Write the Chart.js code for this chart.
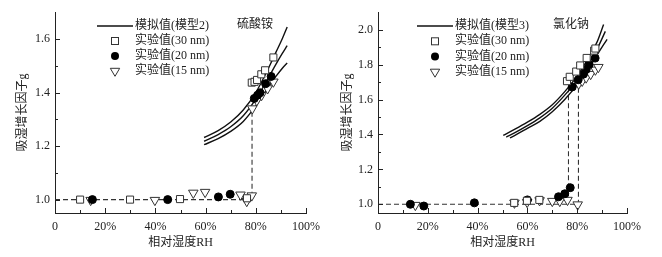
<!DOCTYPE html>
<html>
<head>
<meta charset="utf-8">
<script src="https://cdn.jsdelivr.net/npm/chart.js@4.4.1/dist/chart.umd.min.js"></script>
<style>
  html, body { margin: 0; padding: 0; background: #ffffff; }
  .panel { position: absolute; top: 0; width: 331px; height: 257px; }
</style>
</head>
<body>
<div class="panel" style="left:0"><canvas id="chart_as" width="331" height="257"></canvas></div>
<div class="panel" style="left:331px"><canvas id="chart_na" width="331" height="257"></canvas></div>
<script>
// ---- data ----
// x: relative humidity (%), y: growth factor g

// 硫酸铵 (left panel)
const as_curve_rh = [59.4, 65, 70, 75, 80, 85, 88, 90.5, 92.5];
const as_curve_top = [1.232, 1.258, 1.29, 1.335, 1.40, 1.49, 1.55, 1.60, 1.645];
const as_curve_mid = [1.218, 1.243, 1.272, 1.313, 1.375, 1.455, 1.505, 1.545, 1.575];
const as_curve_bot = [1.205, 1.228, 1.255, 1.292, 1.35, 1.42, 1.46, 1.49, 1.51];

const as_rh_30 = [10, 29.9, 49.8, 76.5, 78.4, 79.5, 80.5, 82.2, 83.7, 87.0];
const as_g_30 = [1.0, 1.0, 1.002, 1.005, 1.437, 1.44, 1.447, 1.468, 1.483, 1.531];
const as_rh_20 = [14.9, 44.9, 65.1, 69.8, 79.4, 80.7, 81.7, 83.9, 86.1];
const as_g_20 = [1.0, 1.0, 1.01, 1.02, 1.378, 1.39, 1.399, 1.433, 1.46];
const as_rh_15 = [14.2, 39.8, 55.1, 59.8, 73.9, 76.4, 78.4, 78.6, 80.4, 82.3, 84.7, 87.0];
const as_g_15 = [0.998, 0.998, 1.025, 1.028, 1.018, 0.994, 1.015, 1.34, 1.37, 1.39, 1.415, 1.44];

const as_dash_rh = [0, 78.5, 78.5];
const as_dash_g = [1.0, 1.0, 1.34];

const as_y_ticks = [1.0, 1.2, 1.4, 1.6];

// 氯化钠 (right panel)
const na_top_rh = [50.3, 55, 60, 65, 70, 75, 80, 85, 88, 90.6];
const na_top_g = [1.395, 1.43, 1.47, 1.515, 1.57, 1.645, 1.735, 1.85, 1.93, 2.03];
const na_mid_rh = [51.5, 55, 60, 65, 70, 75, 80, 85, 88, 91.3];
const na_mid_g = [1.385, 1.41, 1.45, 1.495, 1.55, 1.625, 1.71, 1.815, 1.89, 1.99];
const na_bot_rh = [53, 55, 60, 65, 70, 75, 80, 85, 88, 92];
const na_bot_g = [1.38, 1.395, 1.435, 1.475, 1.53, 1.60, 1.685, 1.785, 1.855, 1.945];

const na_rh_30 = [54.7, 59.8, 64.8, 75.9, 77.0, 79.6, 81.2, 83.8, 86.8, 87.3];
const na_g_30 = [1.008, 1.02, 1.025, 1.705, 1.73, 1.76, 1.795, 1.838, 1.88, 1.892];
const na_rh_20 = [13.0, 18.4, 38.7, 60.0, 72.5, 75.0, 77.2, 78.0, 80.4, 82.5, 83.6, 84.8, 87.2];
const na_g_20 = [1.0, 0.99, 1.008, 1.025, 1.043, 1.06, 1.095, 1.672, 1.713, 1.745, 1.772, 1.80, 1.837];
const na_rh_15 = [15.0, 54.8, 59.9, 64.9, 70.0, 73.0, 76.1, 80.2, 80.6, 82.0, 83.6, 85.4, 87.3, 88.5];
const na_g_15 = [0.995, 1.008, 1.012, 1.022, 1.018, 1.018, 1.024, 0.998, 1.69, 1.706, 1.725, 1.745, 1.77, 1.785];

const na_dash_rh = [0, 80.5, 80.5];
const na_dash_g = [1.0, 1.0, 1.68];
const na_dash2_rh = [76.5, 76.5];
const na_dash2_g = [1.0, 1.66];

const na_y_ticks = [1.0, 1.2, 1.4, 1.6, 1.8, 2.0];

const x_ticks = [0, 20, 40, 60, 80, 100];

const serif = "'Liberation Serif', 'Noto Sans CJK SC', serif";
const ink = "#222222";

function pts(xs, ys) {
  return xs.map((v, i) => ({ x: v, y: ys[i] }));
}

function curve(xs, ys) {
  return {
    type: "line", data: pts(xs, ys), borderColor: "#111", borderWidth: 1.4,
    pointRadius: 0, tension: 0.4, cubicInterpolationMode: "monotone", order: 2
  };
}

function dashed(xs, ys) {
  return {
    type: "line", data: pts(xs, ys), borderColor: "#333", borderWidth: 1.1,
    borderDash: [5, 3], pointRadius: 0, tension: 0, order: 3
  };
}

function marks(xs, ys, style) {
  const base = { type: "scatter", data: pts(xs, ys), borderColor: "#333", borderWidth: 1, order: 0 };
  if (style === "rect") return { ...base, pointStyle: "rect", pointRadius: 5, backgroundColor: "#fff" };
  if (style === "circle") return { ...base, pointStyle: "circle", pointRadius: 4, backgroundColor: "#000", borderColor: "#000" };
  return { ...base, pointStyle: "triangle", rotation: 180, pointRadius: 5.5, backgroundColor: "#fff" };
}

// inward ticks, legend and panel label
const panelDecor = {
  id: "panelDecor",
  afterDraw(chart, args, o) {
    const { ctx } = chart;
    const x = chart.scales.x, y = chart.scales.y;
    ctx.save();
    ctx.strokeStyle = ink;
    ctx.lineWidth = 1;
    for (let v = 0; v <= 100; v += 10) {
      const px = Math.round(x.getPixelForValue(v)) + 0.5;
      const len = v % 20 === 0 ? 5 : 3;
      ctx.beginPath(); ctx.moveTo(px, y.bottom); ctx.lineTo(px, y.bottom - len); ctx.stroke();
    }
    o.yMajor.forEach((v, i) => {
      const py = Math.round(y.getPixelForValue(v)) + 0.5;
      ctx.beginPath(); ctx.moveTo(x.left, py); ctx.lineTo(x.left + 5, py); ctx.stroke();
      const m = v + 0.1;
      if (m < y.max - 0.01) {
        const pm = Math.round(y.getPixelForValue(m)) + 0.5;
        ctx.beginPath(); ctx.moveTo(x.left, pm); ctx.lineTo(x.left + 3, pm); ctx.stroke();
      }
    });

    // legend
    const L = o.legend;
    ctx.font = "12px " + serif;
    ctx.fillStyle = ink;
    ctx.textBaseline = "middle";
    ctx.textAlign = "left";
    L.labels.forEach((txt, i) => {
      const ry = L.y + i * L.gap;
      ctx.strokeStyle = "#111";
      if (i === 0) {
        ctx.lineWidth = 1.6;
        ctx.beginPath(); ctx.moveTo(L.lineX0, ry); ctx.lineTo(L.lineX1, ry); ctx.stroke();
      } else if (i === 1) {
        ctx.lineWidth = 1;
        ctx.strokeStyle = "#333";
        ctx.strokeRect(L.symX - 3.5, ry - 3.5, 7, 7);
      } else if (i === 2) {
        ctx.fillStyle = "#000";
        ctx.beginPath(); ctx.arc(L.symX, ry, 4, 0, Math.PI * 2); ctx.fill();
      } else {
        ctx.lineWidth = 1;
        ctx.strokeStyle = "#333";
        ctx.beginPath();
        ctx.moveTo(L.symX - 4.7, ry - 2.7); ctx.lineTo(L.symX + 4.7, ry - 2.7); ctx.lineTo(L.symX, ry + 5.3);
        ctx.closePath(); ctx.stroke();
      }
      ctx.fillStyle = ink;
      ctx.fillText(txt, L.textX, ry);
    });
    ctx.textAlign = "center";
    ctx.font = "12px " + serif;
    ctx.fillText(o.name, o.nameX, o.nameY);
    ctx.restore();
  }
};

function makePanel({ canvas_id, datasets, y_min, y_max, y_ticks, y_width, pad_right, pad_top, title_pad, decor }) {
  const ctx = document.getElementById(canvas_id).getContext("2d");
  return new Chart(ctx, {
    data: { datasets },
    options: {
      responsive: false,
      animation: false,
      devicePixelRatio: 1,
      layout: { padding: { left: 0, right: pad_right, top: pad_top, bottom: 0 } },
      plugins: { legend: { display: false }, tooltip: { enabled: false }, panelDecor: decor },
      scales: {
        x: {
          type: "linear", min: 0, max: 100,
          afterFit: (s) => { s.height = 44; },
          afterBuildTicks: (s) => { s.ticks = x_ticks.map((v) => ({ value: v })); },
          grid: { display: false, drawTicks: false },
          border: { display: true, color: ink, width: 1 },
          ticks: {
            padding: 7, color: ink, font: { size: 12, family: serif }, maxRotation: 0,
            callback: (v) => (v === 0 ? "0" : v + "%")
          },
          title: {
            display: true, text: "相对湿度RH", color: ink,
            font: { size: 12, family: serif }, padding: { top: 0, bottom: 7 }
          }
        },
        y: {
          type: "linear", min: y_min, max: y_max,
          afterFit: (s) => { s.width = y_width; },
          afterBuildTicks: (s) => { s.ticks = y_ticks.map((v) => ({ value: v })); },
          grid: { display: false, drawTicks: false },
          border: { display: true, color: ink, width: 1 },
          ticks: {
            padding: 5, color: ink, font: { size: 12, family: serif },
            callback: (v) => Number(v).toFixed(1)
          },
          title: {
            display: true, text: "吸湿增长因子g", color: ink,
            font: { size: 12, family: serif }, padding: { top: title_pad, bottom: 0 }
          }
        }
      }
    },
    plugins: [panelDecor]
  });
}

makePanel({
  canvas_id: "chart_as",
  y_min: 0.95, y_max: 1.7, y_ticks: as_y_ticks, y_width: 55, pad_right: 25, pad_top: 10, title_pad: 16,
  datasets: [
    marks(as_rh_30, as_g_30, "rect"),
    marks(as_rh_20, as_g_20, "circle"),
    marks(as_rh_15, as_g_15, "triangle"),
    curve(as_curve_rh, as_curve_top),
    curve(as_curve_rh, as_curve_mid),
    curve(as_curve_rh, as_curve_bot),
    dashed(as_dash_rh, as_dash_g)
  ],
  decor: {
    yMajor: as_y_ticks,
    name: "硫酸铵", nameX: 255, nameY: 25,
    legend: {
      labels: ["模拟值(模型2)", "实验值(30 nm)", "实验值(20 nm)", "实验值(15 nm)"],
      y: 26, gap: 15, lineX0: 97, lineX1: 133, symX: 115, textX: 135
    }
  }
});

makePanel({
  canvas_id: "chart_na",
  y_min: 0.95, y_max: 2.1, y_ticks: na_y_ticks, y_width: 47, pad_right: 35, pad_top: 8, title_pad: 10,
  datasets: [
    marks(na_rh_30, na_g_30, "rect"),
    marks(na_rh_20, na_g_20, "circle"),
    marks(na_rh_15, na_g_15, "triangle"),
    curve(na_top_rh, na_top_g),
    curve(na_mid_rh, na_mid_g),
    curve(na_bot_rh, na_bot_g),
    dashed(na_dash_rh, na_dash_g),
    dashed(na_dash2_rh, na_dash2_g)
  ],
  decor: {
    yMajor: na_y_ticks,
    name: "氯化钠", nameX: 240, nameY: 25,
    legend: {
      labels: ["模拟值(模型3)", "实验值(30 nm)", "实验值(20 nm)", "实验值(15 nm)"],
      y: 26, gap: 15.3, lineX0: 86, lineX1: 122, symX: 104, textX: 124
    }
  }
});
</script>
</body>
</html>
